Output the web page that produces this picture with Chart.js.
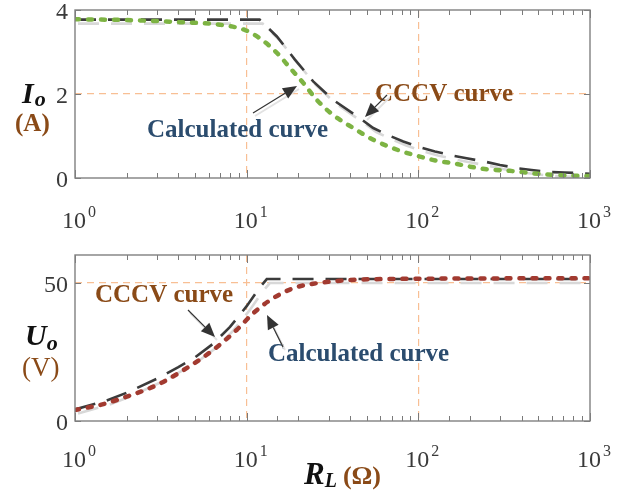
<!DOCTYPE html>
<html>
<head>
<meta charset="utf-8">
<script src="https://cdn.jsdelivr.net/npm/chart.js@4"></script>
<style>
  body { margin: 0; background: #fff; }
  #wrap { position: relative; width: 628px; height: 491px; }
  canvas { position: absolute; left: 0; }
</style>
</head>
<body>
<div id="wrap">
  <canvas id="topChart" width="628" height="245" style="top:0"></canvas>
  <canvas id="botChart" width="628" height="246" style="top:245px"></canvas>
</div>
<script>
// load resistance R_L (ohm)
const rCccvTop = [1, 11.9, 15.0, 19.1, 24.4, 31.9, 45.7, 54.6, 68.4, 81.7, 102, 125, 160, 191, 250, 299, 382, 457, 597, 714, 914, 1000];
const ioCccv   = [3.77, 3.77, 3.37, 2.82, 2.30, 1.86, 1.42, 1.19, 1.00, 0.87, 0.73, 0.63, 0.53, 0.47, 0.38, 0.31, 0.23, 0.19, 0.14, 0.13, 0.11, 0.10];
const rCalcTop = [1, 2, 4.09, 7.0, 9.8, 11.9, 15, 17.9, 21.4, 25.6, 31.9, 41.8, 54.6, 78, 98, 128, 160, 200, 250, 341, 467, 639, 914, 1000];
const ioCalc   = [3.78, 3.76, 3.71, 3.65, 3.52, 3.33, 2.98, 2.62, 2.26, 1.86, 1.50, 1.19, 0.91, 0.65, 0.53, 0.41, 0.35, 0.27, 0.21, 0.17, 0.11, 0.07, 0.05, 0.05];

const rCccvBot = [1, 1.5, 2, 3, 4, 5, 6.4, 8, 10, 12, 13.1, 1000];
const uoCccv   = [4.2, 7.2, 10.2, 15.3, 19.5, 23, 28, 34, 41.5, 48.5, 51.3, 51.3];
const rCalcBot = [1, 1.4, 2, 3, 4.47, 6.39, 8.74, 10.9, 13.7, 18.7, 25.6, 35, 62, 1000];
const uoCalc   = [4.0, 5.8, 8.8, 13.0, 19.1, 25.7, 32.9, 38.9, 43.7, 48.0, 49.8, 50.7, 51.3, 51.6];

const xTickValues = [1, 10, 100, 1000];
const ioTicks = [0, 2, 4];
const uoTicks = [0, 50];

const ORANGE = '#f8bf94';
const BLUE = '#2b4c6e';
const BROWN = '#8a4a17';
const SERIF = '"Liberation Serif", "Times New Roman", serif';

const pts = (xs, ys) => xs.map((x, i) => ({ x: x, y: ys[i] }));
const isDecade = v => Math.abs(Math.log10(v) - Math.round(Math.log10(v))) < 1e-6;

function drawArrow(ctx, x1, y1, x2, y2) {
  const ang = Math.atan2(y2 - y1, x2 - x1);
  const len = 14, half = 6;
  const bx = x2 - len * Math.cos(ang), by = y2 - len * Math.sin(ang);
  // faint shadow
  ctx.strokeStyle = '#e2e2e2';
  ctx.lineWidth = 2;
  ctx.beginPath(); ctx.moveTo(x1 + 2, y1 + 3); ctx.lineTo(x2 + 2, y2 + 3); ctx.stroke();
  ctx.strokeStyle = '#333';
  ctx.fillStyle = '#333';
  ctx.lineWidth = 1.2;
  ctx.beginPath(); ctx.moveTo(x1, y1); ctx.lineTo(bx, by); ctx.stroke();
  ctx.beginPath();
  ctx.moveTo(x2, y2);
  ctx.lineTo(bx + half * Math.sin(ang), by - half * Math.cos(ang));
  ctx.lineTo(bx - half * Math.sin(ang), by + half * Math.cos(ang));
  ctx.closePath();
  ctx.fill();
}

function drawRuns(ctx, runs, x, y) {
  // runs: [text, font, color, dy, gapAfter]
  runs.forEach(r => {
    ctx.font = r[1];
    ctx.fillStyle = r[2];
    ctx.fillText(r[0], x, y + (r[3] || 0));
    x += ctx.measureText(r[0]).width + (r[4] || 0);
  });
}

const shadowPlugin = {
  id: 'shadow',
  beforeDatasetDraw(chart, args) {
    const ds = chart.data.datasets[args.index];
    if (!ds.shadow) return;
    const ctx = chart.ctx;
    ctx.save();
    ctx.shadowColor = '#d8d8d8';
    ctx.shadowOffsetX = 3;
    ctx.shadowOffsetY = 4;
    ctx.shadowBlur = 0;
  },
  afterDatasetDraw(chart, args) {
    if (chart.data.datasets[args.index].shadow) chart.ctx.restore();
  }
};

const framePlugin = {
  id: 'frame',
  afterDraw(chart, args, opts) {
    const ctx = chart.ctx;
    const a = chart.chartArea;
    const xs = chart.scales.x, ys = chart.scales.y;
    ctx.save();
    // inner tick marks
    ctx.strokeStyle = '#7a7a7a';
    ctx.lineWidth = 1;
    xs.ticks.forEach(t => {
      const px = Math.round(xs.getPixelForValue(t.value)) + 0.5;
      const l = isDecade(t.value) ? 8 : 5;
      ctx.beginPath();
      ctx.moveTo(px, a.bottom); ctx.lineTo(px, a.bottom - l);
      ctx.moveTo(px, a.top); ctx.lineTo(px, a.top + l);
      ctx.stroke();
    });
    opts.yTicks.forEach(v => {
      const py = Math.round(ys.getPixelForValue(v)) + 0.5;
      ctx.beginPath();
      ctx.moveTo(a.left, py); ctx.lineTo(a.left + 6, py);
      ctx.moveTo(a.right, py); ctx.lineTo(a.right - 6, py);
      ctx.stroke();
    });
    // box
    ctx.strokeStyle = '#808080';
    ctx.lineWidth = 1.4;
    ctx.strokeRect(a.left, a.top, a.right - a.left, a.bottom - a.top);

    // x tick labels 10^k
    ctx.textBaseline = 'alphabetic';
    xTickValues.forEach(v => {
      const px = xs.getPixelForValue(v);
      ctx.fillStyle = '#3a3a3a';
      ctx.font = '24px ' + SERIF;
      ctx.textAlign = 'center';
      ctx.fillText('10', px - 1, opts.xLabelY);
      ctx.font = '16px ' + SERIF;
      ctx.textAlign = 'left';
      ctx.fillText(String(Math.round(Math.log10(v))), px + 13, opts.xLabelY - 11);
    });

    // annotations
    ctx.textAlign = 'left';
    opts.notes.forEach(n => {
      ctx.font = 'bold 25px ' + SERIF;
      ctx.fillStyle = n.color;
      ctx.fillText(n.text, n.x, n.y);
    });
    opts.arrows.forEach(p => drawArrow(ctx, p[0], p[1], p[2], p[3]));

    // axis titles
    opts.titles.forEach(t => drawRuns(ctx, t.runs, t.x, t.y));
    ctx.restore();
  }
};

function makePanel(id, cfg) {
  const H = document.getElementById(id).height;
  return new Chart(document.getElementById(id), {
    type: 'line',
    data: {
      datasets: [
        {
          label: 'Calculated curve',
          data: pts(cfg.calcX, cfg.calcY),
          borderColor: cfg.calcColor,
          borderWidth: 4.5,
          borderDash: [4, 9],
          borderCapStyle: 'round',
          pointRadius: 0,
          cubicInterpolationMode: 'monotone',
          order: 0
        },
        {
          label: 'CCCV curve',
          data: pts(cfg.cccvX, cfg.cccvY),
          borderColor: '#3b3b3b',
          borderWidth: 2.6,
          borderDash: [21, 12],
          pointRadius: 0,
          tension: 0,
          shadow: true,
          order: 1
        }
      ]
    },
    options: {
      responsive: false,
      animation: false,
      layout: { padding: { top: 10, right: 38, left: 0, bottom: 0 } },
      plugins: {
        legend: { display: false },
        tooltip: { enabled: false },
        frame: cfg.frame
      },
      scales: {
        x: {
          type: 'logarithmic',
          min: 1,
          max: 1000,
          ticks: { display: false },
          grid: {
            drawTicks: false,
            lineWidth: 1.2,
            color: c => (c.tick && c.tick.value > 1 && c.tick.value < 1000 && isDecade(c.tick.value)) ? ORANGE : 'rgba(0,0,0,0)'
          },
          border: { display: false, dash: [7, 5] },
          afterFit: s => { s.height = H - cfg.plotBottom; s.paddingLeft = 0; s.paddingRight = 0; }
        },
        y: {
          min: cfg.yMin,
          max: cfg.yMax,
          afterBuildTicks: s => { s.ticks = cfg.yTicks.map(v => ({ value: v })); },
          ticks: {
            padding: 7,
            labelOffset: 3,
            color: '#3a3a3a',
            font: { family: SERIF, size: 24 }
          },
          grid: {
            drawTicks: false,
            lineWidth: 1.2,
            color: c => (c.tick && c.tick.value === cfg.yGrid) ? ORANGE : 'rgba(0,0,0,0)'
          },
          border: { display: false, dash: [7, 5] },
          afterFit: s => { s.width = 75; s.paddingTop = 0; s.paddingBottom = 0; }
        }
      }
    },
    plugins: [shadowPlugin, framePlugin]
  });
}

makePanel('topChart', {
  calcX: rCalcTop, calcY: ioCalc, calcColor: '#7db343',
  cccvX: rCccvTop, cccvY: ioCccv,
  yMin: 0, yMax: 4, yTicks: ioTicks, yGrid: 2, plotBottom: 178,
  frame: {
    yTicks: ioTicks,
    xLabelY: 228,
    notes: [
      { text: 'Calculated curve', x: 147, y: 137, color: BLUE },
      { text: 'CCCV curve', x: 375, y: 101, color: BROWN }
    ],
    arrows: [[253, 113, 297, 86], [387, 95, 365, 117]],
    titles: [
      { x: 22, y: 103, runs: [['I', 'bold italic 30px ' + SERIF, '#111', 0, 1], ['o', 'bold italic 22px ' + SERIF, '#111', 3]] },
      { x: 15, y: 131, runs: [['(A)', 'bold 25px ' + SERIF, BROWN, 0]] }
    ]
  }
});

makePanel('botChart', {
  calcX: rCalcBot, calcY: uoCalc, calcColor: '#a23a30',
  cccvX: rCccvBot, cccvY: uoCccv,
  yMin: 0, yMax: 60, yTicks: uoTicks, yGrid: 50, plotBottom: 176,
  frame: {
    yTicks: uoTicks,
    xLabelY: 222,
    notes: [
      { text: 'CCCV curve', x: 95, y: 57, color: BROWN },
      { text: 'Calculated curve', x: 268, y: 116, color: BLUE }
    ],
    arrows: [[188, 65, 215, 92], [283, 102, 267, 70]],
    titles: [
      { x: 25, y: 100, runs: [['U', 'bold italic 30px ' + SERIF, '#111', 0, 0], ['o', 'bold italic 22px ' + SERIF, '#111', 5]] },
      { x: 22, y: 131, runs: [['(V)', '27px ' + SERIF, BROWN, 0]] },
      { x: 304, y: 239, runs: [['R', 'bold italic 31px ' + SERIF, '#111', 0, 0], ['L', 'bold italic 20px ' + SERIF, '#111', 3, 6], ['(Ω)', 'bold 26px ' + SERIF, BROWN, 0]] }
    ]
  }
});
</script>
</body>
</html>
